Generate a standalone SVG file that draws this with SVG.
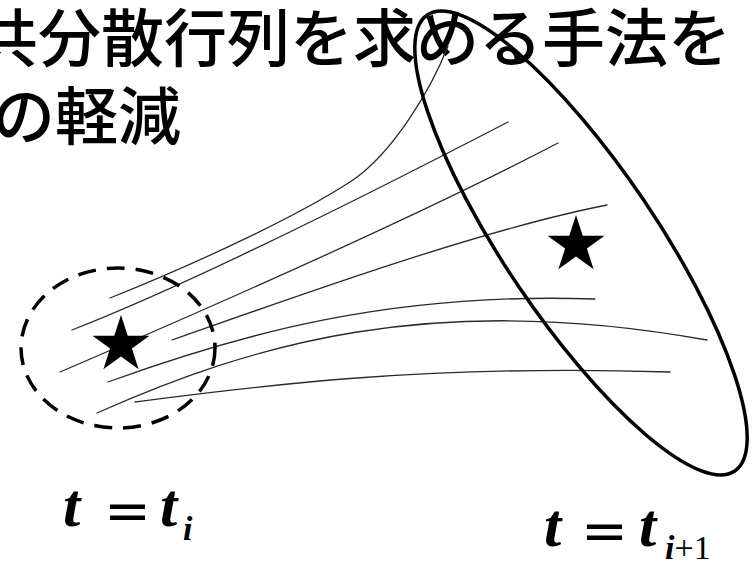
<svg xmlns="http://www.w3.org/2000/svg" width="753" height="561" viewBox="0 0 753 561">
  <style>
    .title { font-family: "Noto Sans CJK JP", "Noto Sans", sans-serif; font-size: 63px; font-weight: 500; fill: #000; }
    .traj { fill: none; stroke: #2a2a2a; stroke-width: 1.3; stroke-linecap: round; }
    .bound { fill: none; stroke: #000; stroke-width: 3.5; }
    .dash { stroke-dasharray: 18 11; }
    .star { fill: #000; }
    .math { font-family: "Liberation Serif", "Times New Roman", serif; fill: #000; }
    .it { font-style: italic; font-weight: bold; font-size: 62px; }
    .eq { font-family: "DejaVu Serif", serif; font-style: normal; font-weight: normal; font-size: 56px; }
    .sub { font-style: italic; font-weight: bold; font-size: 34px; }
    .subr { font-style: normal; font-weight: normal; font-size: 34px; }
  </style>
  <defs>
    <path id="star" d="M0,-30 L6.74,-9.27 L28.53,-9.27 L10.9,3.54 L17.63,24.27 L0,11.46 L-17.63,24.27 L-10.9,3.54 L-28.53,-9.27 L-6.74,-9.27 Z"/>
  </defs>

  <g id="title">
    <text class="title" x="-25" y="61">共分散行列を求める手法を</text>
    <text class="title" x="-8" y="139">の軽減</text>
  </g>

  <g id="trajectories">
    <path class="traj" d="M110,298 C200,262 300,215 353,180 C392,153 430,92 448,46"/>
    <path class="traj" d="M72,330 C200,280 400,178 508,122"/>
    <path class="traj" d="M60,372 C200,312 420,215 558,143"/>
    <path class="traj" d="M172,340 C300,295 480,230 607,205"/>
    <path class="traj" d="M108,382 C240,334 390,292 595,299"/>
    <path class="traj" d="M97,413 C250,345 430,290 707,340"/>
    <path class="traj" d="M135,402 C250,387 420,364 670,372"/>
  </g>

  <g id="region-ti">
    <ellipse class="bound dash" cx="118" cy="348" rx="97" ry="80"/>
    <use href="#star" class="star" x="121" y="345"/>
  </g>

  <g id="region-ti1">
    <ellipse class="bound" cx="581" cy="243" rx="275" ry="76" transform="rotate(56 581 243)"/>
    <use href="#star" class="star" x="576" y="245"/>
  </g>

  <g id="label-ti">
    <text class="math it" x="63" y="526">t</text>
    <text class="math eq" x="104" y="530">=</text>
    <text class="math it" x="160" y="526">t</text>
    <text class="math sub" x="183" y="540">i</text>
  </g>

  <g id="label-ti1">
    <text class="math it" x="544" y="546">t</text>
    <text class="math eq" x="581" y="550">=</text>
    <text class="math it" x="639" y="546">t</text>
    <text class="math" x="665" y="559"><tspan class="sub">i</tspan><tspan class="subr">+1</tspan></text>
  </g>
</svg>
